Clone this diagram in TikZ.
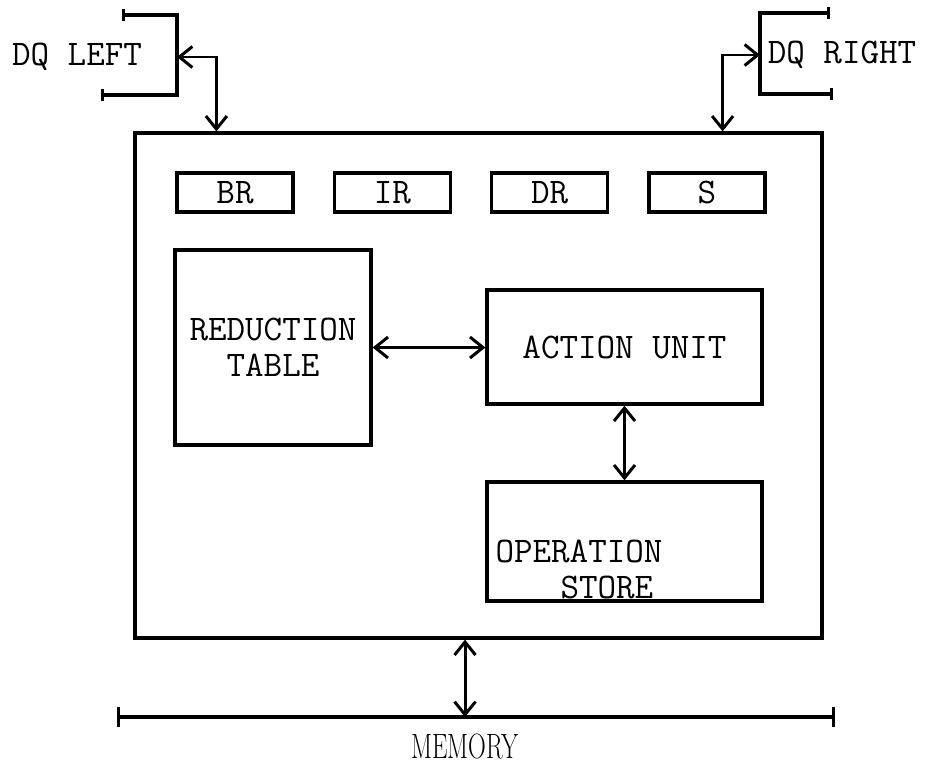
\documentclass[tikz,border=0pt]{standalone}
\usepackage{graphicx}
\usepackage{tikz}
\usetikzlibrary{arrows.meta,positioning}

\begin{document}
\begin{tikzpicture}[
    x=0.02cm, y=-0.02cm,
    font=\fontsize{20.5}{20.5}\selectfont\ttfamily,
    unit/.style={draw, line width=1.9pt, inner sep=0pt, align=center},
    reg/.style={unit, minimum width=2.32cm, minimum height=0.78cm},
    arr/.style={{Straight Barb[length=2.6mm,width=4.2mm]}-{Straight Barb[length=2.6mm,width=4.2mm]},
      line width=1.7pt},
    bus/.style={{Bar[width=4mm]}-{Bar[width=4mm]}, line width=1.8pt},
    dq/.style={{Bar[width=2.4mm]}-{Bar[width=2.4mm]}, line width=1.8pt},
    lbl/.style={inner sep=0pt, align=left},
  ]
  \useasboundingbox (0,0) rectangle (925,765);
  % processing unit
  \node[unit, minimum width=13.74cm, minimum height=10.1cm] (pu) at (478.5,385.5) {};
  \node[reg] (br) at (235,192.5) {BR};
  \node[reg, right=0.76cm of br] (ir) {IR};
  \node[reg, right=0.76cm of ir] (dr) {DR};
  \node[reg, right=0.76cm of dr] (s) {S};
  \node[unit, minimum width=3.92cm, minimum height=3.9cm] (rt) at (273,347.5) {REDUCTION\\TABLE};
  \node[unit, minimum width=5.5cm, minimum height=2.28cm] (au) at (624.5,347) {ACTION UNIT};
  \node[unit, minimum width=5.5cm, minimum height=2.38cm] (os) at (624.5,541.5) {};
  \node[lbl] (ostxt) at (579,569) {OPERATION\\\hspace*{1.3cm}STORE};
  \draw[arr] (rt.east) -- (rt.east -| au.west);
  \draw[arr] (au.south) -- (os.north);
  % DQ brackets
  \coordinate (dqlt) at (122,15);
  \coordinate (dql) at (177,57);
  \coordinate (dqlb) at (101,95);
  \coordinate (dqrt) at (830,13);
  \coordinate (dqr) at (760,55);
  \coordinate (dqrb) at (833,94);
  \draw[dq] (dqlt) -| (dql) |- (dqlb);
  \draw[dq] (dqrt) -| (dqr) |- (dqrb);
  \node[lbl] (dqltxt) at (77,57) {DQ LEFT};
  \node[lbl] (dqrtxt) at (842,55) {DQ RIGHT};
  \draw[arr] (dql) -| ([xshift=1.66cm]pu.north west);
  \draw[arr] ([xshift=-2.02cm]pu.north east) |- (dqr);
  % memory
  \coordinate (meml) at (117,717);
  \coordinate (memr) at (835,717);
  \draw[bus] (meml) -- (memr);
  \draw[arr] ([xshift=-0.27cm]pu.south) -- ([xshift=-0.27cm]pu.south |- meml);
  \node[lbl, font=\fontsize{20}{22}\selectfont\rmfamily] (mem) at (465,746) {\scalebox{0.7}[1]{MEMORY}};
\end{tikzpicture}
\end{document}
